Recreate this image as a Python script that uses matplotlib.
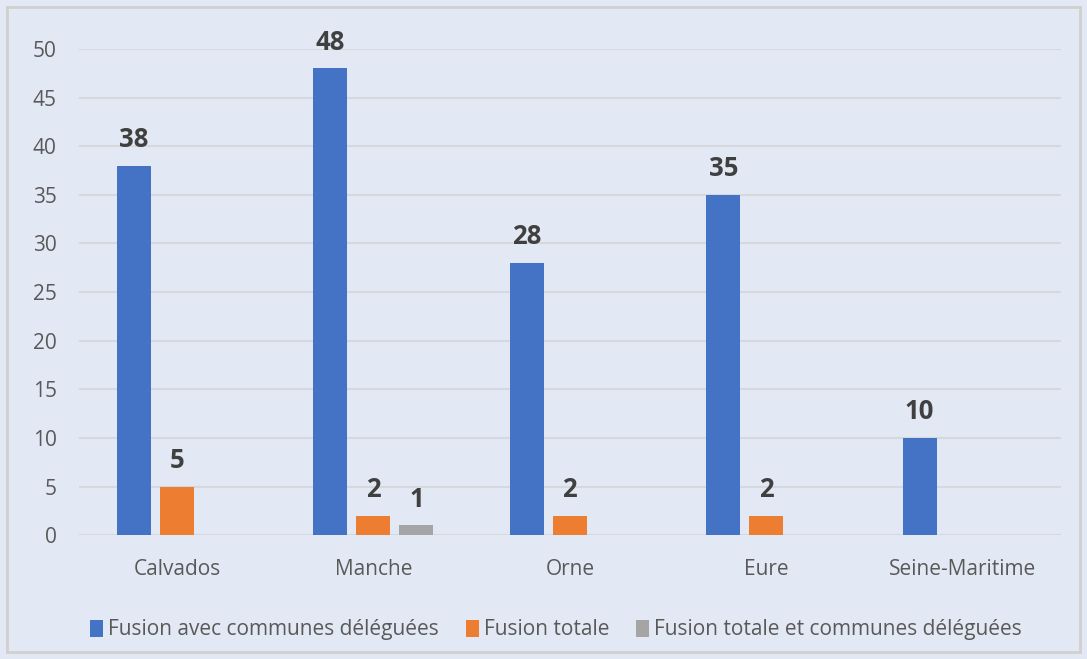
import matplotlib.pyplot as plt
from matplotlib.patches import Rectangle
import numpy as np

categories = ["Calvados", "Manche", "Orne", "Eure", "Seine-Maritime"]
series_names = ["Fusion avec communes déléguées", "Fusion totale",
                "Fusion totale et communes déléguées"]
fusion_deleguees = [38, 48, 28, 35, 10]
fusion_totale = [5, 2, 2, 2, 0]
fusion_totale_deleguees = [0, 1, 0, 0, 0]

colors = ["#4472C4", "#ED7D31", "#A5A5A5"]
bg = "#E3E9F4"

plt.rcParams['font.family'] = ['Open Sans', 'DejaVu Sans']

fig = plt.figure(figsize=(10.87, 6.59), dpi=100, facecolor=bg)
fig.patches.append(Rectangle((7 / 1087, 7 / 659), 1073 / 1087, 645 / 659,
                             transform=fig.transFigure, fill=False,
                             edgecolor="#D0D0D0", linewidth=2))
ax = fig.add_axes([0.0725, 0.188, 0.9035, 0.7376])
ax.set_facecolor(bg)

x = np.arange(len(categories))
w = 0.173
off = 0.219
all_series = [fusion_deleguees, fusion_totale, fusion_totale_deleguees]
for i, (vals, col, name) in enumerate(zip(all_series, colors, series_names)):
    xs = x + (i - 1) * off
    ax.bar(xs, vals, width=w, color=col, label=name, zorder=3)
    for xx, v in zip(xs, vals):
        if v != 0:
            ax.text(xx, v + 1.9, str(v), ha='center', va='baseline',
                    fontsize=18.5, fontweight='bold', color="#404040")

ax.set_xlim(-0.5, len(categories) - 0.5)
ax.set_ylim(0, 50)
ax.set_yticks(range(0, 51, 5))
ax.set_xticks(x)
ax.set_xticklabels(categories)
ax.tick_params(axis='both', length=0, labelsize=15, labelcolor="#595959")
ax.tick_params(axis='x', pad=17)
ax.tick_params(axis='y', pad=16)
ax.grid(axis='y', color="#D5D8DD", linewidth=1.5, zorder=0)
for s in ax.spines.values():
    s.set_visible(False)

leg = ax.legend(loc='upper center', bbox_to_anchor=(0.486, -0.135), ncol=3,
                frameon=False, fontsize=15, handlelength=0.6,
                handleheight=0.85, handletextpad=0.25, columnspacing=1.3)
for t in leg.get_texts():
    t.set_color("#595959")

fig.savefig("out.png", dpi=100, facecolor=bg)
